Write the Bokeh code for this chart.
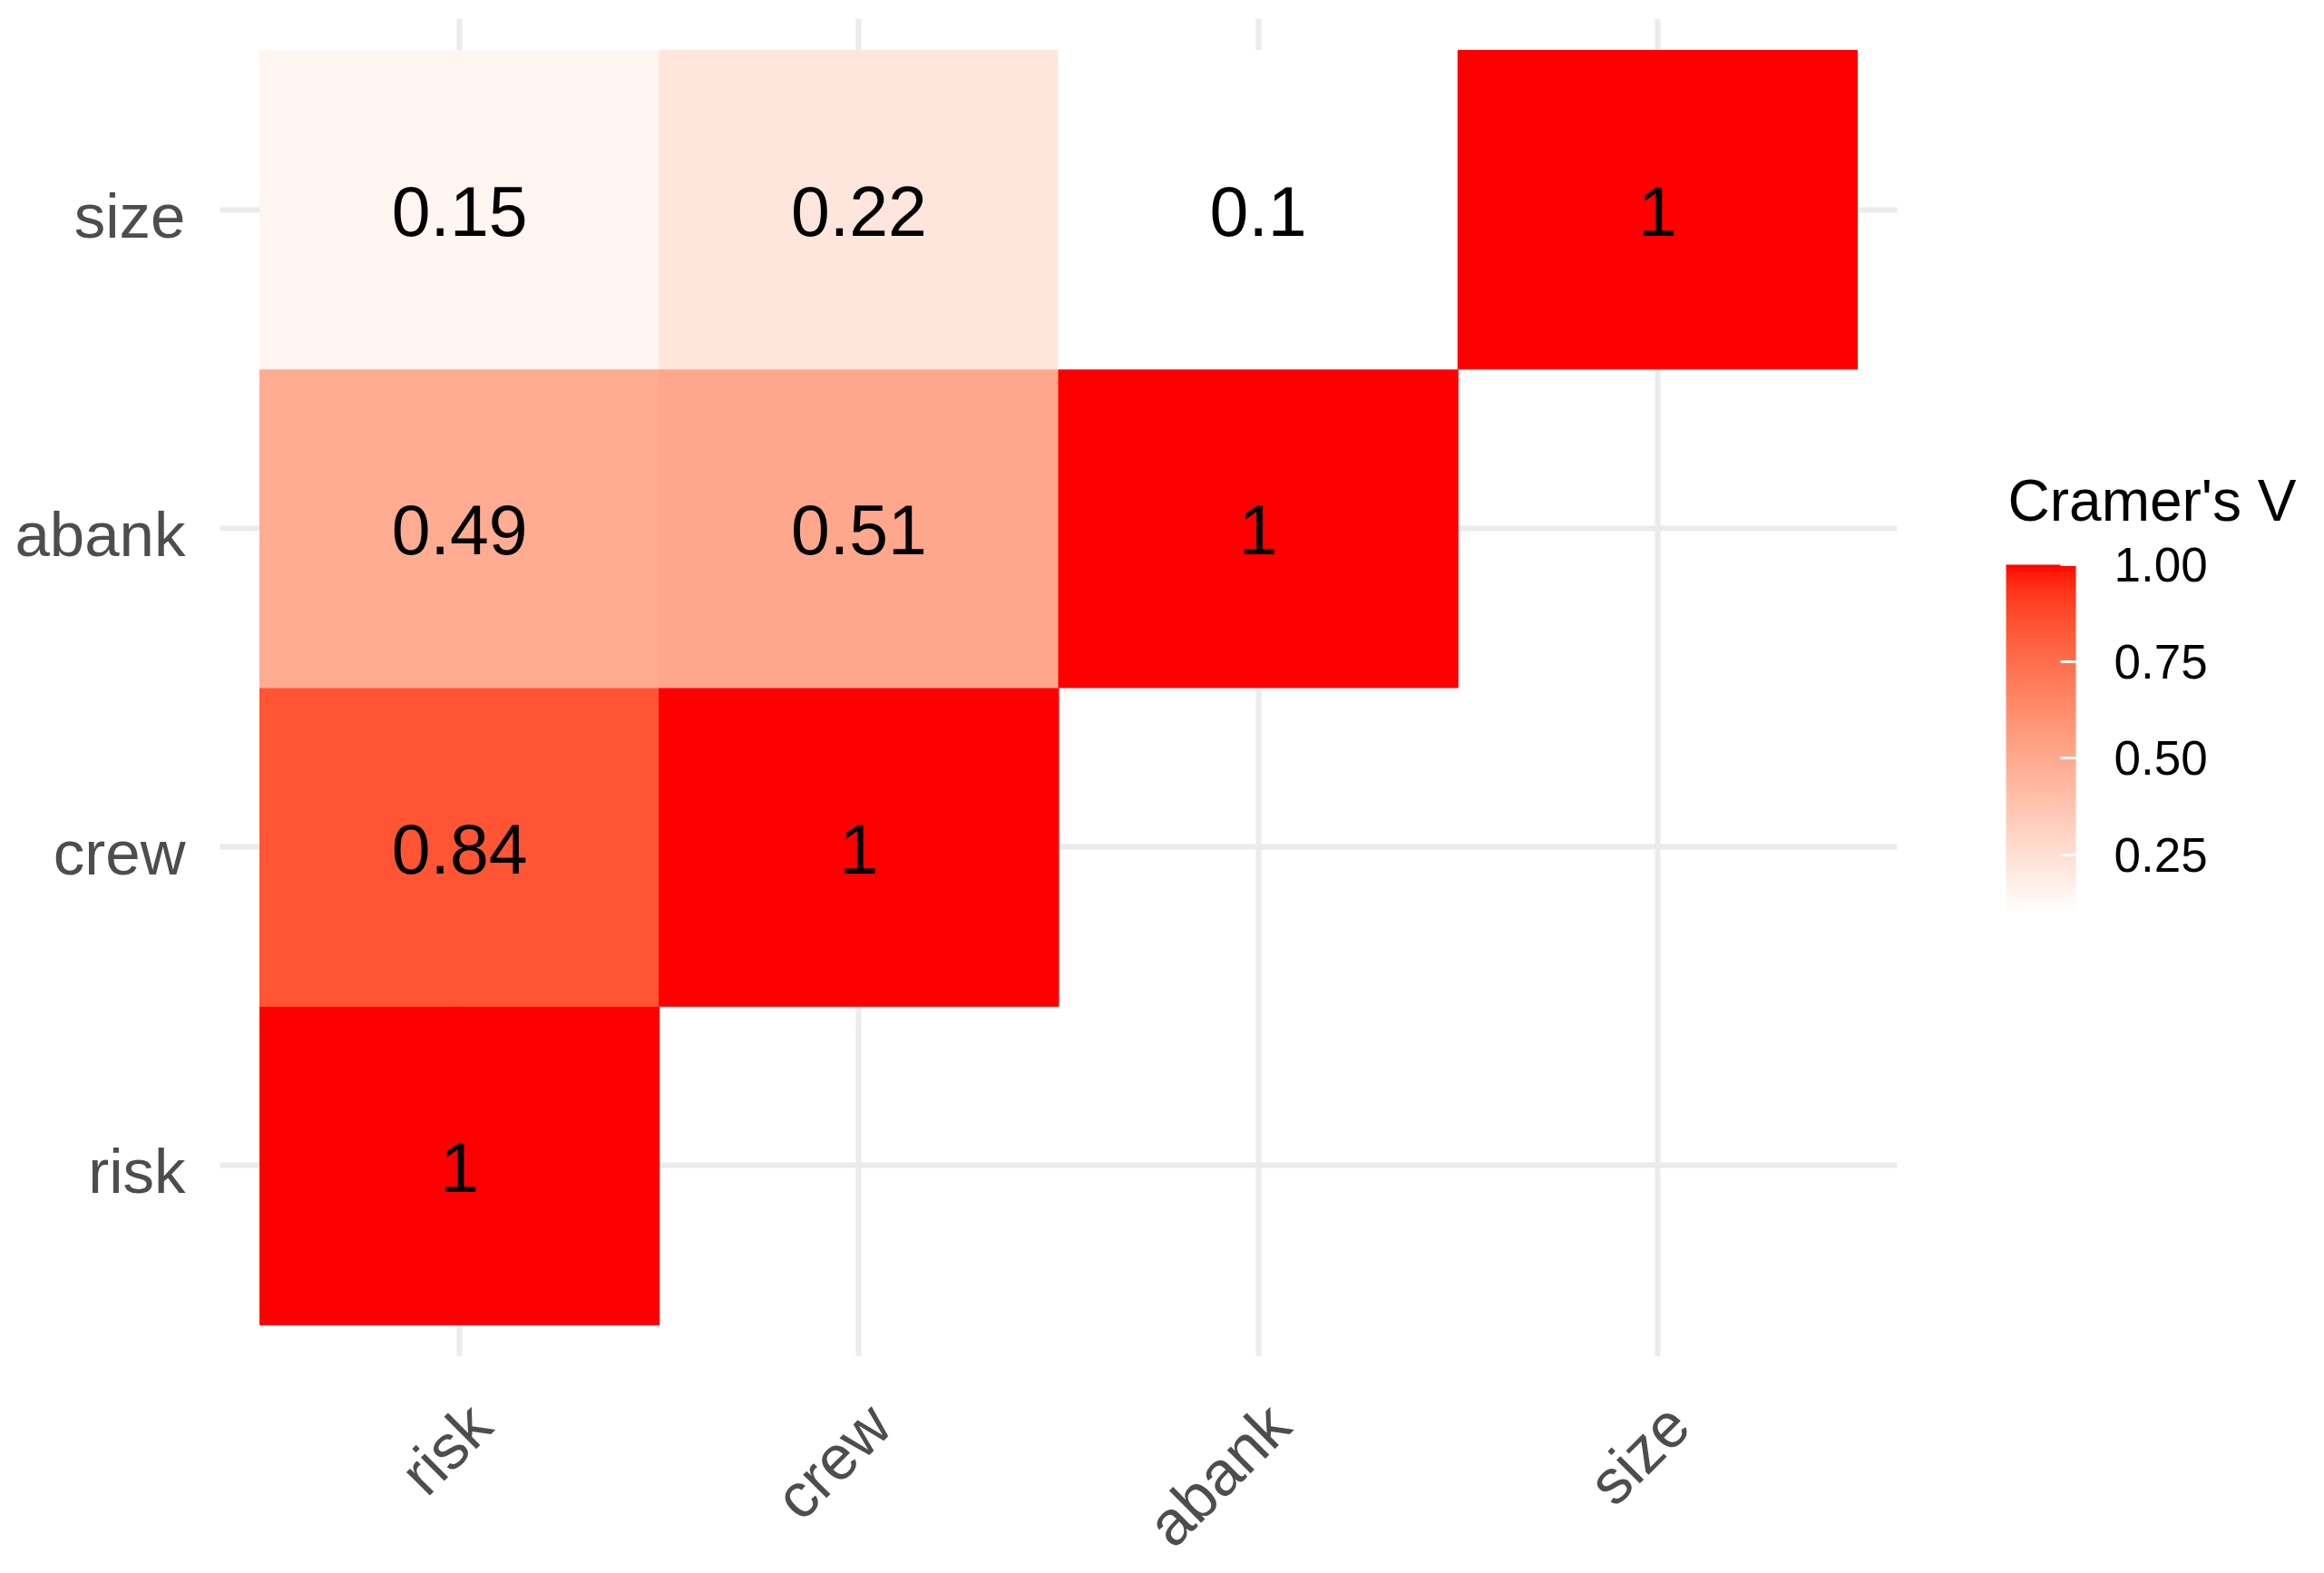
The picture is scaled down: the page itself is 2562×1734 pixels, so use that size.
import math
import numpy as np
from bokeh.plotting import figure
from bokeh.layouts import row
from bokeh.models import (Range1d, FixedTicker, LinearColorMapper, ColorBar,
                          PrintfTickFormatter, ColumnDataSource, Label)
from bokeh.transform import transform
from bokeh.core.properties import value
from bokeh.embed import file_html
from bokeh.resources import INLINE

# ---------------- data ----------------
variables = ["risk", "crew", "abank", "size"]
cell_x = ["risk", "risk", "crew", "risk", "crew", "abank", "risk", "crew", "abank", "size"]
cell_y = ["risk", "crew", "crew", "abank", "abank", "abank", "size", "size", "size", "size"]
cramers_v = [1.0, 0.84, 1.0, 0.49, 0.51, 1.0, 0.15, 0.22, 0.10, 1.0]
legend_ticks = [0.25, 0.50, 0.75, 1.00]
legend_title = "Cramer's V"

FONT = "Liberation Sans"

# layout (pixels)
FRAME_W, FRAME_H = 1849, 1475
BORDER_L, BORDER_T, BORDER_B, BORDER_R = 242, 20, 225, 100
LEG_W = 360
X_LABEL_SHIFT_PX = 23     # ggplot-style hjust/vjust=1 label placement
Y_LABEL_SHIFT_PX = 7

# ---------------- colour scale (CIELAB white -> red, like ggplot) ----------------
WHITE_PT = np.array([0.95047, 1.0, 1.08883])
M = np.array([[0.4124, 0.3576, 0.1805],
              [0.2126, 0.7152, 0.0722],
              [0.0193, 0.1192, 0.9505]])
MINV = np.linalg.inv(M)


def hex_to_lab(h):
    rgb = np.array([int(h[i:i + 2], 16) / 255 for i in (1, 3, 5)])
    lin = np.where(rgb <= 0.04045, rgb / 12.92, ((rgb + 0.055) / 1.055) ** 2.4)
    xyz = M @ lin / WHITE_PT
    d = 6 / 29
    f = np.where(xyz > d ** 3, np.cbrt(xyz), xyz / (3 * d * d) + 4 / 29)
    return np.array([116 * f[1] - 16, 500 * (f[0] - f[1]), 200 * (f[1] - f[2])])


def lab_to_hex(lab):
    L, a, b = lab
    fy = (L + 16) / 116
    f = np.array([fy + a / 500, fy, fy - b / 200])
    d = 6 / 29
    xyz = np.where(f > d, f ** 3, 3 * d * d * (f - 4 / 29)) * WHITE_PT
    lin = np.clip(MINV @ xyz, 0, 1)
    rgb = np.where(lin <= 0.0031308, 12.92 * lin, 1.055 * lin ** (1 / 2.4) - 0.055)
    rgb = np.clip(np.round(rgb * 255), 0, 255).astype(int)
    return "#%02x%02x%02x" % tuple(rgb)


lab_lo, lab_hi = hex_to_lab("#ffffff"), hex_to_lab("#ff0000")
palette = [lab_to_hex(lab_lo + (lab_hi - lab_lo) * t) for t in np.linspace(0, 1, 256)]
mapper = LinearColorMapper(palette=palette, low=min(cramers_v), high=max(cramers_v))

# ---------------- main heatmap ----------------
pos = {v: i + 1 for i, v in enumerate(variables)}
src = ColumnDataSource(dict(
    x=[pos[c] for c in cell_x],
    y=[pos[r] for r in cell_y],
    v=cramers_v,
    label=[f"{v:g}" for v in cramers_v],
))

lo, hi = 0.4, len(variables) + 0.6
p = figure(x_range=Range1d(lo, hi), y_range=Range1d(lo, hi),
           frame_width=FRAME_W, frame_height=FRAME_H,
           output_backend="svg", toolbar_location=None, title=None)
p.min_border_left = BORDER_L
p.min_border_top = BORDER_T
p.min_border_bottom = BORDER_B
p.min_border_right = BORDER_R
p.outline_line_color = None
p.background_fill_color = "white"
p.border_fill_color = "white"

p.rect(x="x", y="y", width=1, height=1, source=src,
       fill_color=transform("v", mapper), line_color=transform("v", mapper), line_width=1)
p.text(x="x", y="y", text="label", source=src, text_align="center", text_baseline="middle",
       text_font_size="77px", text_font=value(FONT), text_color="black", y_offset=2)

ticks = [pos[v] for v in variables]
dx = X_LABEL_SHIFT_PX * (hi - lo) / FRAME_W
dy = -Y_LABEL_SHIFT_PX * (hi - lo) / FRAME_H
xticks = [t + dx for t in ticks]
yticks = [t + dy for t in ticks]
p.xaxis.ticker = FixedTicker(ticks=xticks)
p.xaxis.major_label_overrides = {t: v for t, v in zip(xticks, variables)}
p.yaxis.ticker = FixedTicker(ticks=yticks)
p.yaxis.major_label_overrides = {t: v for t, v in zip(yticks, variables)}
for ax in (p.xaxis[0], p.yaxis[0]):
    ax.axis_line_color = None
    ax.major_tick_line_color = None
    ax.minor_tick_line_color = None
    ax.major_tick_in = 0
    ax.major_tick_out = 0
    ax.minor_tick_in = 0
    ax.minor_tick_out = 0
    ax.major_label_text_font = FONT
    ax.major_label_text_font_size = "69px"
    ax.major_label_text_color = "#4d4d4d"
p.yaxis.major_label_standoff = 38
p.xaxis.major_label_standoff = 64
p.xaxis.major_label_orientation = math.pi / 4

for g in (p.xgrid[0], p.ygrid[0]):
    g.ticker = FixedTicker(ticks=ticks)
    g.grid_line_color = "#ebebeb"
    g.grid_line_width = 6
    g.minor_grid_line_color = None

# ---------------- legend panel (frame aligned with the main frame) ----------------
leg = figure(frame_width=LEG_W, frame_height=FRAME_H,
             x_range=Range1d(0, 1), y_range=Range1d(0, 1),
             x_axis_location=None, y_axis_location=None,
             output_backend="svg", toolbar_location=None, title=None)
leg.min_border_left = 0
leg.min_border_right = 0
leg.min_border_top = BORDER_T
leg.min_border_bottom = BORDER_B
leg.outline_line_color = None
leg.grid.visible = False
leg.background_fill_color = "white"
leg.border_fill_color = "white"

# positions measured from the bottom-left of the legend frame
cb = ColorBar(color_mapper=mapper, ticker=FixedTicker(ticks=legend_ticks),
              formatter=PrintfTickFormatter(format="%.2f"),
              width=77, height=384, location=(20, 489), padding=0, margin=0,
              title=None,
              major_label_text_font=FONT, major_label_text_font_size="53px",
              major_label_text_color="black", label_standoff=42,
              major_tick_line_color="white", major_tick_line_width=3,
              major_tick_in=17, major_tick_out=0,
              minor_tick_line_color=None, bar_line_color=None,
              border_line_color=None, background_fill_color=None)
leg.add_layout(cb, "center")

title_lbl = Label(x=22, y=944, x_units="screen", y_units="screen", text=legend_title,
                  text_font=FONT, text_font_size="64px", text_color="black",
                  text_align="left", text_baseline="alphabetic")
leg.add_layout(title_lbl, "center")

layout = row(p, leg, spacing=0)
open("out.html", "w").write(file_html(layout, INLINE))
